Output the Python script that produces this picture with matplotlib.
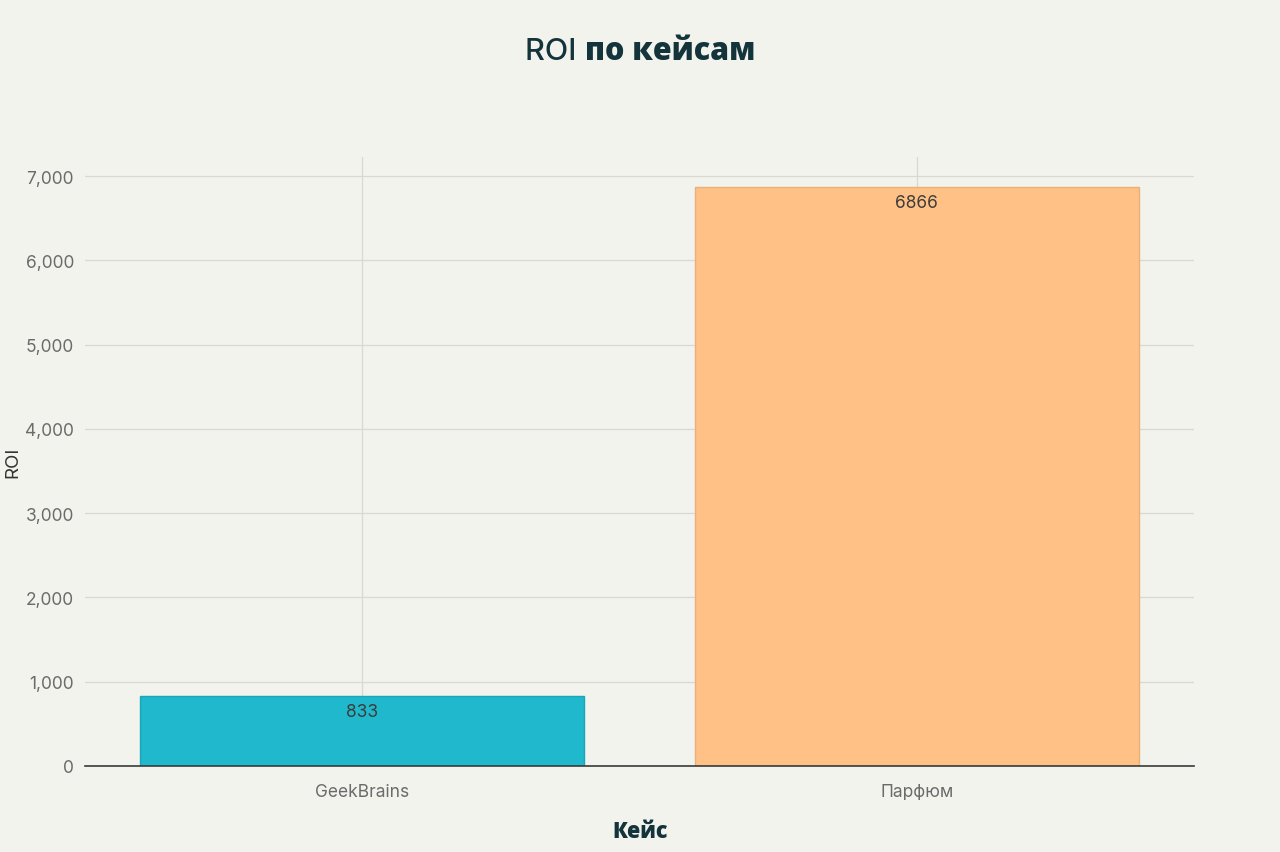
import matplotlib
matplotlib.use("Agg")
import matplotlib.pyplot as plt
from matplotlib.ticker import FuncFormatter, MultipleLocator

categories = ["GeekBrains", "Парфюм"]
roi_values = [833, 6866]
bar_colors = ["#1FB8CD", "#FFC185"]
edge_colors = ["#1AA6B8", "#E8B07A"]

BG = "#F3F3EE"
DARK = "#13343B"

plt.rcParams['font.family'] = ['Inter', 'DejaVu Sans']

fig = plt.figure(figsize=(12.8, 8.53), dpi=100, facecolor=BG)
ax = fig.add_axes([85/1280, 1-767/853, (1194-85)/1280, (767-158)/853])
ax.set_facecolor(BG)

x = list(range(len(categories)))
bars = ax.bar(x, roi_values, width=0.8, color=bar_colors, edgecolor=edge_colors,
              linewidth=1, zorder=3)

ymax = max(roi_values) * 1.0526
ax.set_ylim(0, ymax)
ax.set_xlim(-0.5, len(categories) - 0.5)

ax.yaxis.set_major_locator(MultipleLocator(1000))
ax.yaxis.set_major_formatter(FuncFormatter(lambda v, p: f"{int(v):,}"))
ax.set_xticks(x)
ax.set_xticklabels(categories)

ax.grid(True, color="#D9D9D4", linewidth=0.9, zorder=0)
ax.axhline(0, color="#3A3A3A", linewidth=1.2, zorder=6, clip_on=False)
for s in ax.spines.values():
    s.set_visible(False)
ax.tick_params(axis='both', length=0, labelsize=12.5, labelcolor="#6B6B6B", pad=8)
ax.tick_params(axis='x', pad=12)

for xi, v in zip(x, roi_values):
    ax.annotate(f"{v}", xy=(xi, v), xytext=(0, -5), textcoords="offset points",
                ha='center', va='top', fontsize=12.5, color="#3C3C3C", zorder=5)

fig.text(13/1280, 1-462/853, "ROI", rotation=90, ha='center', va='center',
         fontsize=13.5, color="#333333")
fig.text(640/1280, 1-832/853, "Кейс", ha='center', va='center', fontsize=15.5,
         fontweight=800, family=['Open Sans', 'DejaVu Sans'], color=DARK)

# Title: "ROI" regular + "по кейсам" bold, centered together
fig.canvas.draw()
renderer = fig.canvas.get_renderer()
ty = 1 - 52/853
t1 = fig.text(0, ty, "ROI ", fontsize=22, color=DARK, va='center', ha='left',
              fontweight='medium', family=['Inter', 'DejaVu Sans'])
t2 = fig.text(0, ty, "по кейсам", fontsize=22, color=DARK, va='center', ha='left',
              fontweight=800, family=['Open Sans', 'DejaVu Sans'])
w1 = t1.get_window_extent(renderer).width / fig.bbox.width
w2 = t2.get_window_extent(renderer).width / fig.bbox.width
start = 0.5 - (w1 + w2) / 2
t1.set_x(start)
t2.set_x(start + w1)

fig.savefig("out.png", dpi=100, facecolor=BG)
